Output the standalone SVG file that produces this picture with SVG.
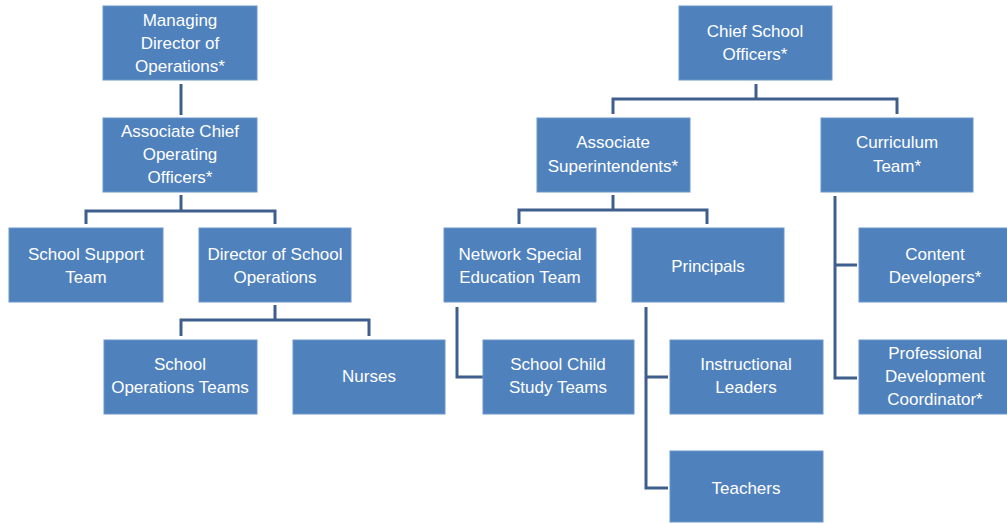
<svg xmlns="http://www.w3.org/2000/svg" width="1007" height="523" viewBox="0 0 1007 523">
<style>
.box{fill:#4f81bd;stroke:#6d96c9;stroke-width:1}
.t{font-family:"Liberation Sans",Arial,sans-serif;font-size:17px;fill:#ffffff;text-anchor:middle}
.c{fill:none;stroke:#3e5f8c;stroke-width:3;stroke-linejoin:miter}
</style>
<rect width="1007" height="523" fill="#ffffff"/>
<g id="connectors">
<path class="c" d="M181,84 V115"/>
<path class="c" d="M181,195 V211 M86,224 V211 H275 V224"/>
<path class="c" d="M275,305 V320 M181,336 V320 H369 V336"/>
<path class="c" d="M756,84 V99 M613,114 V99 H897 V114"/>
<path class="c" d="M613,195 V210 M519,224 V210 H707 V224"/>
<path class="c" d="M457,307 V377 H483"/>
<path class="c" d="M646,307 V488 H668 M646,377 H668"/>
<path class="c" d="M835,196 V378 H857 M835,265 H857"/>
</g>
<g id="managing-director"><rect class="box" x="103" y="6" width="154" height="74"/><text class="t" x="180" y="26">Managing</text><text class="t" x="180" y="49">Director of</text><text class="t" x="180" y="72">Operations*</text></g>
<g id="associate-chief"><rect class="box" x="103" y="118" width="154" height="74"/><text class="t" x="180" y="137">Associate Chief</text><text class="t" x="180" y="160">Operating</text><text class="t" x="180" y="183">Officers*</text></g>
<g id="school-support"><rect class="box" x="9" y="228" width="154" height="74"/><text class="t" x="86" y="260">School Support</text><text class="t" x="86" y="283">Team</text></g>
<g id="director-school-ops"><rect class="box" x="199" y="228" width="152" height="74"/><text class="t" x="275" y="260">Director of School</text><text class="t" x="275" y="283">Operations</text></g>
<g id="school-ops-teams"><rect class="box" x="104" y="340" width="153" height="74"/><text class="t" x="180" y="370">School</text><text class="t" x="180" y="393">Operations Teams</text></g>
<g id="nurses"><rect class="box" x="293" y="340" width="152" height="74"/><text class="t" x="369" y="382">Nurses</text></g>
<g id="chief-school-officers"><rect class="box" x="679" y="6" width="153" height="74"/><text class="t" x="755" y="37">Chief School</text><text class="t" x="755" y="60">Officers*</text></g>
<g id="associate-superintendents"><rect class="box" x="537" y="118" width="153" height="74"/><text class="t" x="613" y="148">Associate</text><text class="t" x="613" y="172">Superintendents*</text></g>
<g id="curriculum-team"><rect class="box" x="821" y="118" width="152" height="74"/><text class="t" x="897" y="148">Curriculum</text><text class="t" x="897" y="172">Team*</text></g>
<g id="network-special-ed"><rect class="box" x="444" y="228" width="152" height="74"/><text class="t" x="520" y="260">Network Special</text><text class="t" x="520" y="283">Education Team</text></g>
<g id="principals"><rect class="box" x="632" y="228" width="152" height="74"/><text class="t" x="708" y="272">Principals</text></g>
<g id="school-child-study"><rect class="box" x="483" y="340" width="151" height="74"/><text class="t" x="558" y="370">School Child</text><text class="t" x="558" y="393">Study Teams</text></g>
<g id="instructional-leaders"><rect class="box" x="670" y="340" width="153" height="74"/><text class="t" x="746" y="370">Instructional</text><text class="t" x="746" y="393">Leaders</text></g>
<g id="teachers"><rect class="box" x="670" y="451" width="153" height="71"/><text class="t" x="746" y="494">Teachers</text></g>
<g id="content-developers"><rect class="box" x="859" y="228" width="152" height="74"/><text class="t" x="935" y="260">Content</text><text class="t" x="935" y="283">Developers*</text></g>
<g id="professional-development"><rect class="box" x="859" y="340" width="152" height="74"/><text class="t" x="935" y="359">Professional</text><text class="t" x="935" y="382">Development</text><text class="t" x="935" y="405">Coordinator*</text></g>
</svg>
